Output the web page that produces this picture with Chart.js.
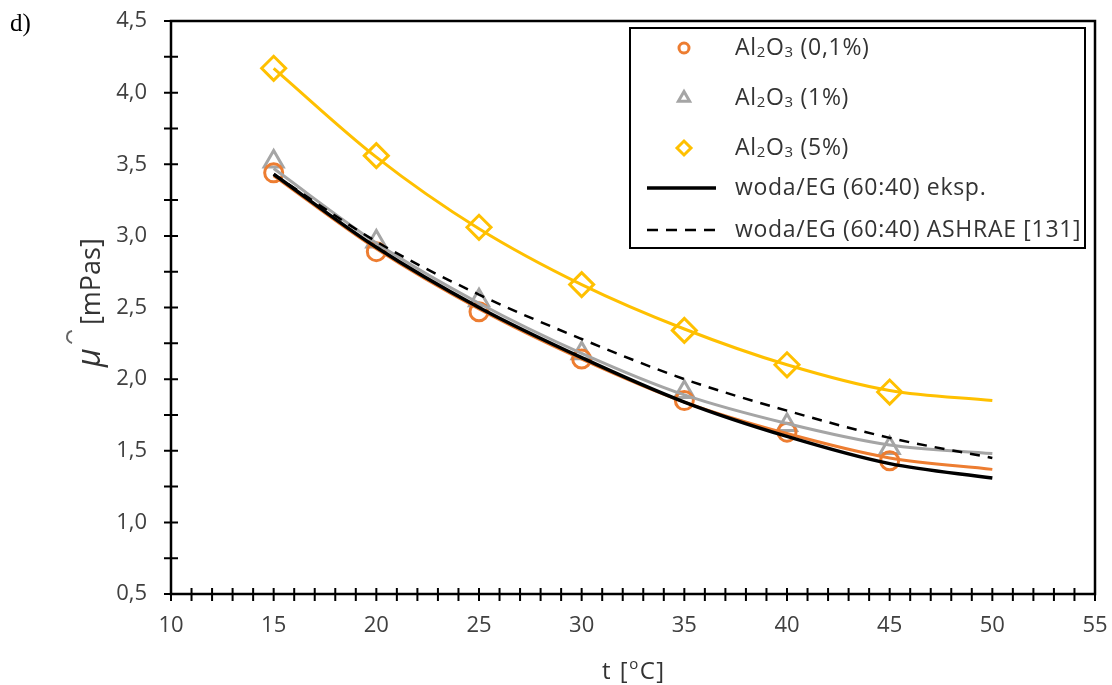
<!DOCTYPE html>
<html lang="pl">
<head>
<meta charset="UTF-8">
<title>Lepkość nanocieczy Al2O3 - woda/EG</title>
<script src="https://cdn.jsdelivr.net/npm/chart.js"></script>
<style>
    html, body { margin: 0; padding: 0; background: #fff; }
    #wrap { position: relative; width: 1112px; height: 685px; }
</style>
</head>
<body>
<div id="wrap"><canvas id="chart" width="1112" height="685"></canvas></div>
<script>
// punkty pomiarowe, t [oC]
const tempPts = [15, 20, 25, 30, 35, 40, 45];
const mu01 = [3.44, 2.89, 2.47, 2.14, 1.85, 1.63, 1.43];
const mu1  = [3.52, 2.96, 2.55, 2.18, 1.91, 1.68, 1.52];
const mu5  = [4.17, 3.56, 3.06, 2.66, 2.34, 2.10, 1.91];

// krzywe (15..50 oC)
const tempFit   = [15, 20, 25, 30, 35, 40, 45, 50];
const fit01     = [3.42, 2.91, 2.49, 2.14, 1.84, 1.62, 1.45, 1.37];
const fit1      = [3.47, 2.95, 2.53, 2.18, 1.89, 1.69, 1.54, 1.48];
const fit5      = [4.17, 3.55, 3.05, 2.66, 2.35, 2.10, 1.92, 1.85];
const fitEksp   = [3.43, 2.92, 2.50, 2.15, 1.84, 1.60, 1.41, 1.31];
const fitAshrae = [3.43, 2.96, 2.59, 2.28, 2.00, 1.78, 1.59, 1.45];

const xTicks = [10, 15, 20, 25, 30, 35, 40, 45, 50, 55];

const ORANGE = '#ED7D31', GRAY = '#A5A5A5', YELLOW = '#FFC000';
const FONT = "'Open Sans', sans-serif";

const pts = (xs, ys) => xs.map((x, i) => ({x: x, y: ys[i]}));

// tekst z indeksami dolnymi (₂, ₃)
function drawRich(ctx, text, x, y, size) {
    const sub = {'₂': '2', '₃': '3'};
    let cx = x;
    for (const ch of text) {
        if (sub[ch]) {
            ctx.font = Math.round(size * 0.66) + 'px ' + FONT;
            ctx.fillText(sub[ch], cx, y + size * 0.22);
            cx += ctx.measureText(sub[ch]).width;
        } else {
            ctx.font = size + 'px ' + FONT;
            ctx.fillText(ch, cx, y);
            cx += ctx.measureText(ch).width;
        }
    }
}

const legendItems = [
    {label: 'Al₂O₃ (0,1%)', marker: {pointStyle: 'circle', radius: 5, borderWidth: 3, rotation: 0}, color: ORANGE, y: 48},
    {label: 'Al₂O₃ (1%)', marker: {pointStyle: 'triangle', radius: 6.5, borderWidth: 3, rotation: 0}, color: GRAY, y: 98},
    {label: 'Al₂O₃ (5%)', marker: {pointStyle: 'rectRot', radius: 7, borderWidth: 3, rotation: 0}, color: YELLOW, y: 148},
    {label: 'woda/EG (60:40) eksp.', line: [], width: 3.5, color: '#000', y: 188},
    {label: 'woda/EG (60:40) ASHRAE [131]', line: [11, 8], width: 2.5, color: '#000', y: 230}
];

const decor = {
    id: 'decor',
    afterDraw(chart) {
        const {ctx, chartArea: a, scales: {x, y}} = chart;
        ctx.save();
        // ramka
        ctx.strokeStyle = '#000';
        ctx.lineWidth = 2.5;
        ctx.strokeRect(a.left, a.top, a.right - a.left, a.bottom - a.top);
        // znaczniki osi
        ctx.lineWidth = 2;
        ctx.beginPath();
        y.ticks.forEach(t => {
            const py = y.getPixelForValue(t.value);
            ctx.moveTo(a.left - 7, py); ctx.lineTo(a.left + 7, py);
        });
        x.ticks.forEach(t => {
            const px = x.getPixelForValue(t.value);
            ctx.moveTo(px, a.bottom - 6); ctx.lineTo(px, a.bottom + 7);
        });
        ctx.stroke();

        // legenda
        ctx.fillStyle = '#fff';
        ctx.fillRect(630, 28, 455, 220);
        ctx.lineWidth = 2;
        ctx.strokeStyle = '#000';
        ctx.strokeRect(630, 28, 455, 220);
        ctx.letterSpacing = '0.7px';
        legendItems.forEach(it => {
            ctx.strokeStyle = it.color;
            if (it.marker) {
                ctx.fillStyle = 'rgba(0,0,0,0)';
                ctx.lineWidth = it.marker.borderWidth;
                Chart.helpers.drawPoint(ctx, it.marker, 684, it.y);
            } else {
                ctx.lineWidth = it.width;
                ctx.setLineDash(it.line);
                ctx.beginPath();
                ctx.moveTo(647, it.y); ctx.lineTo(716, it.y);
                ctx.stroke();
                ctx.setLineDash([]);
            }
            ctx.fillStyle = '#333';
            ctx.textBaseline = 'middle';
            ctx.textAlign = 'left';
            drawRich(ctx, it.label, 735, it.y, 23);
        });

        // opis osi X: t [oC]
        ctx.fillStyle = '#333';
        ctx.textBaseline = 'alphabetic';
        ctx.letterSpacing = '1.5px';
        ctx.font = '24px ' + FONT;
        let cx = 602;
        ctx.fillText('t [', cx, 679); cx += ctx.measureText('t [').width;
        ctx.font = '15px ' + FONT;
        ctx.fillText('o', cx, 669); cx += ctx.measureText('o').width;
        ctx.font = '24px ' + FONT;
        ctx.fillText('C]', cx, 679);
        ctx.letterSpacing = '0px';

        // opis osi Y: mu [mPas]
        ctx.translate(100, 367);
        ctx.rotate(-Math.PI / 2);
        ctx.font = 'italic 32px ' + FONT;
        ctx.fillText('μ', 0, 0);
        ctx.font = '27px ' + FONT;
        ctx.fillText('[mPas]', 42, 0);
        ctx.strokeStyle = '#666';
        ctx.lineWidth = 2;
        ctx.beginPath();
        ctx.arc(30, -27, 6, Math.PI * 1.05, Math.PI * 1.95);
        ctx.stroke();
        ctx.restore();

        // oznaczenie panelu
        ctx.save();
        ctx.fillStyle = '#000';
        ctx.font = "25px 'Liberation Serif', serif";
        ctx.fillText('d)', 10, 31);
        ctx.restore();
    }
};

const marker = (label, data, color, style, r) => ({
    label: label, data: data, showLine: false,
    pointStyle: style, pointRadius: r, pointHoverRadius: r,
    pointBorderColor: color, pointBackgroundColor: 'rgba(0,0,0,0)', pointBorderWidth: 3,
    borderColor: color, order: 5
});
const curve = (label, data, color, width, dash, order) => ({
    label: label, data: data, showLine: true, pointRadius: 0,
    borderColor: color, borderWidth: width, borderDash: dash,
    cubicInterpolationMode: 'monotone', fill: false, order: order
});

new Chart(document.getElementById('chart'), {
    type: 'scatter',
    data: {
        datasets: [
            marker('Al₂O₃ (0,1%)', pts(tempPts, mu01), ORANGE, 'circle', 9),
            marker('Al₂O₃ (1%)', pts(tempPts, mu1), GRAY, 'triangle', 11),
            marker('Al₂O₃ (5%)', pts(tempPts, mu5), YELLOW, 'rectRot', 12),
            curve('fit 0,1%', pts(tempFit, fit01), ORANGE, 3, [], 3),
            curve('fit 1%', pts(tempFit, fit1), GRAY, 3, [], 2),
            curve('fit 5%', pts(tempFit, fit5), YELLOW, 3, [], 2),
            curve('woda/EG (60:40) eksp.', pts(tempFit, fitEksp), '#000', 3.5, [], 1),
            curve('woda/EG (60:40) ASHRAE [131]', pts(tempFit, fitAshrae), '#000', 2.5, [10, 8], 1)
        ]
    },
    options: {
        responsive: false,
        animation: false,
        layout: {padding: {top: 21, right: 17, left: 0, bottom: 0}},
        plugins: {legend: {display: false}, tooltip: {enabled: false}},
        scales: {
            x: {
                type: 'linear', min: 10, max: 55,
                afterFit: s => { s.height = 91; s.paddingLeft = 0; s.paddingRight = 0; },
                afterBuildTicks: s => { s.ticks = Array.from({length: 46}, (_, i) => ({value: 10 + i})); },
                grid: {display: false, drawTicks: false},
                border: {display: false},
                ticks: {
                    autoSkip: false, maxRotation: 0, padding: 19,
                    color: '#404040', font: {family: FONT, size: 22},
                    callback: v => xTicks.includes(v) ? String(v) : ''
                }
            },
            y: {
                type: 'linear', min: 0.5, max: 4.5,
                afterFit: s => { s.width = 171; s.paddingTop = 0; s.paddingBottom = 0; },
                afterBuildTicks: s => { s.ticks = Array.from({length: 17}, (_, i) => ({value: 0.5 + i * 0.25})); },
                grid: {display: false, drawTicks: false},
                border: {display: false},
                ticks: {
                    autoSkip: false, padding: 24,
                    color: '#404040', font: {family: FONT, size: 22},
                    callback: v => (Math.abs(v * 2 - Math.round(v * 2)) < 1e-6) ? v.toFixed(1).replace('.', ',') : ''
                }
            }
        }
    },
    plugins: [decor]
});
</script>
</body>
</html>
